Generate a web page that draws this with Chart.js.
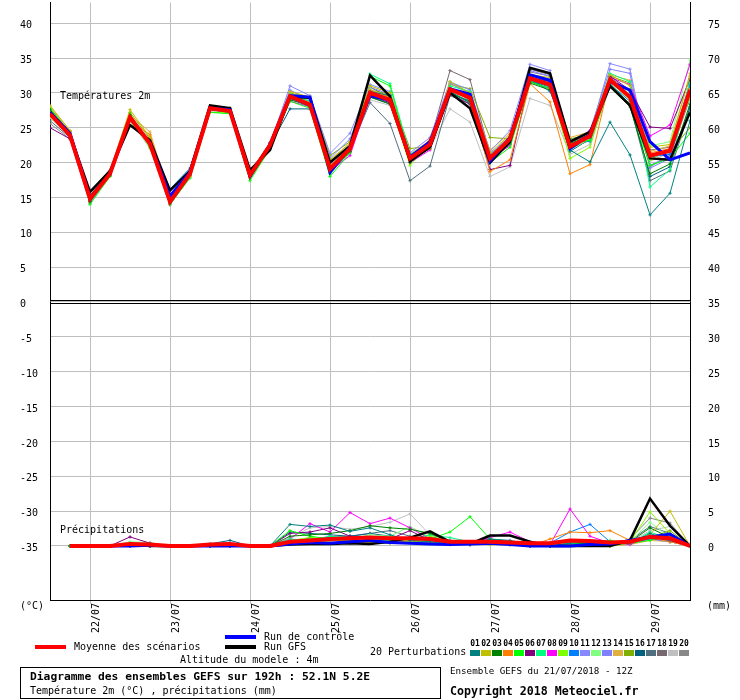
<!DOCTYPE html>
<html><head><meta charset="utf-8">
<script src="https://cdn.jsdelivr.net/npm/chart.js@4.4.0/dist/chart.umd.min.js"></script>
<style>html,body{margin:0;padding:0;background:#fff}canvas{display:block}</style>
</head><body>
<canvas id="c" width="740" height="700"></canvas>
<script>
// ---- time axis (hours since run 21/07/2018 12Z) ----
const HOURS = [0,6,12,18,24,30,36,42,48,54,60,66,72,78,84,90,96,102,108,114,120,126,132,138,144,150,156,162,168,174,180,186,192];
const DAY_HOURS = [12,36,60,84,108,132,156,180];
const DAY_LABELS = ['22/07','23/07','24/07','25/07','26/07','27/07','28/07','29/07'];
const TEMP_TICKS = [-35,-30,-25,-20,-15,-10,-5,0,5,10,15,20,25,30,35,40];
const PRECIP_BASE = -35; // 0 mm sits on the -35 line (right axis = left + 35)

// ---- temperatures 2m (°C) ----
const MEAN_T = [27.0,23.9,14.8,18.4,26.5,22.7,14.4,18.4,27.8,27.4,18.2,22.5,29.5,28.3,19.1,22.0,30.0,29.0,20.6,22.6,30.5,29.3,20.6,23.4,32.1,31.2,22.3,23.8,31.9,29.4,21.0,21.7,30.4];
const GFS_T  = [27.2,24.0,15.8,18.8,25.4,23.2,16.0,18.8,28.2,27.8,18.9,21.8,29.4,29.3,20.0,22.4,32.5,29.5,20.2,22.2,30.0,27.8,20.0,23.0,33.6,32.8,23.0,24.4,31.0,28.2,20.6,20.4,27.2];
const CTRL_T = [27.2,24.2,15.0,18.4,26.4,22.8,15.2,18.6,27.8,27.6,18.0,22.6,29.6,29.4,18.6,22.2,29.6,29.0,20.8,23.0,30.6,29.8,20.2,23.6,32.6,31.8,22.0,24.0,31.6,30.4,23.0,20.4,21.4];
const P01_T = [26.8,23.6,14.6,18.2,26.2,23.0,14.6,18.6,27.6,27.2,18.0,22.8,29.2,28.0,19.4,22.2,30.2,29.6,20.8,23.0,30.2,28.6,21.0,23.2,31.8,30.8,21.8,20.1,25.8,21.1,12.5,15.6,26.0];
const P02_T = [28.2,24.6,15.2,18.8,27.6,23.6,14.8,18.0,27.8,27.8,18.8,22.4,30.2,29.4,20.4,22.8,31.0,30.0,21.0,22.0,31.6,30.0,21.4,24.0,32.6,32.2,23.0,24.2,32.6,31.0,22.2,22.6,32.4];
const P03_T = [27.6,24.0,14.4,18.4,26.8,22.4,14.2,18.2,28.0,27.4,18.4,22.2,29.0,28.2,19.0,21.6,29.4,28.4,20.0,22.4,30.0,28.8,20.2,22.8,31.4,30.4,22.8,23.6,30.8,28.0,18.4,19.8,28.4];
const P04_T = [27.2,24.4,15.0,18.6,26.0,24.0,14.6,18.4,27.6,27.2,18.4,22.6,29.6,28.6,19.6,22.0,30.4,29.4,20.4,23.4,30.4,29.0,18.7,20.4,31.3,28.7,18.4,19.7,32.0,29.6,21.4,22.0,30.6];
const P05_T = [27.8,24.2,14.0,18.0,27.0,22.2,14.0,17.8,27.2,27.0,17.4,22.0,28.8,27.8,18.0,21.4,32.4,31.0,20.8,22.4,30.2,28.6,20.0,22.2,31.6,30.6,22.6,23.2,31.2,28.4,19.6,20.6,24.2];
const P06_T = [25.0,23.4,14.4,18.6,26.2,22.8,14.8,18.8,28.0,27.6,18.6,22.8,29.4,28.4,19.0,21.8,29.6,28.6,20.4,22.0,29.8,28.4,19.0,19.6,32.2,31.6,23.0,24.0,32.4,30.4,25.1,24.9,32.0];
const P07_T = [27.4,24.0,14.8,18.2,26.6,22.6,14.4,18.2,27.8,27.6,18.2,22.2,29.8,28.8,19.2,21.8,32.7,31.3,21.2,22.8,31.0,30.2,20.8,23.8,32.4,31.6,22.6,24.4,32.8,31.6,16.5,19.0,31.8];
const P08_T = [27.0,23.8,14.6,18.4,26.4,22.6,14.2,18.2,27.6,27.4,18.2,22.4,28.8,28.0,18.8,21.0,29.6,28.8,20.0,21.8,30.4,29.2,20.6,22.4,32.2,31.8,22.8,24.6,32.2,31.2,23.8,25.4,34.1];
const P09_T = [26.6,23.8,15.0,18.6,26.0,22.4,14.6,18.6,27.2,27.2,17.8,22.0,29.2,28.2,18.8,21.6,29.8,28.8,19.6,22.6,30.6,29.6,20.4,23.0,31.8,31.0,20.6,22.2,31.6,29.0,20.4,22.0,29.4];
const P10_T = [27.4,24.4,15.2,18.8,26.8,23.0,16.2,19.2,28.0,27.6,18.6,22.8,29.4,28.2,18.6,22.2,29.4,28.6,20.2,23.2,30.8,28.8,20.8,23.6,32.0,30.2,23.2,23.0,31.2,28.8,20.8,21.2,31.2];
const P11_T = [26.8,23.6,14.2,18.2,26.4,22.8,14.4,18.4,27.8,27.2,18.2,22.6,31.0,29.6,21.3,24.2,31.2,30.2,21.4,23.6,31.6,30.4,21.6,24.6,34.1,33.2,22.6,24.2,34.2,33.4,19.6,21.0,31.6];
const P12_T = [27.6,24.2,14.8,18.6,26.6,22.0,14.6,18.0,28.0,27.8,18.8,22.2,29.6,28.6,19.4,22.6,30.6,29.2,20.6,22.2,30.2,29.8,21.0,23.2,32.4,31.4,21.8,23.4,32.0,29.8,22.4,23.0,34.7];
const P13_T = [27.0,24.0,15.0,18.8,26.2,22.8,14.6,18.6,27.6,27.4,18.4,22.8,30.4,29.0,20.6,23.4,30.8,29.8,21.0,23.0,31.4,30.0,21.2,23.8,33.2,32.4,22.4,24.6,33.4,32.8,19.2,20.6,30.8];
const P14_T = [28.0,24.6,15.4,18.6,26.8,24.4,15.0,18.4,27.8,27.6,18.8,22.4,29.8,29.0,20.2,22.8,30.2,29.6,21.2,23.2,31.4,29.8,21.8,24.2,32.4,31.8,23.6,24.4,32.6,31.8,21.6,22.4,32.8];
const P15_T = [27.8,24.4,15.0,18.2,27.2,23.4,14.8,18.6,27.8,27.6,18.6,22.4,30.0,29.2,21.0,23.0,30.4,29.8,22.0,22.4,31.2,30.6,23.6,23.4,32.2,31.2,23.4,24.0,32.4,31.4,20.8,21.6,25.0];
const P16_T = [27.0,23.8,14.8,18.4,26.4,22.6,14.4,18.4,27.8,27.4,18.0,22.4,27.7,27.7,18.4,21.6,29.4,28.4,20.0,22.4,30.0,28.6,20.4,22.6,31.6,30.6,21.6,23.4,31.0,28.4,18.0,19.4,28.0];
const P17_T = [26.0,23.6,14.4,18.2,26.0,22.4,14.2,18.0,27.6,27.2,18.0,22.2,29.2,28.0,19.0,21.8,28.6,25.6,17.4,19.5,29.6,28.4,20.8,23.0,31.6,31.0,22.0,23.2,31.4,28.2,17.4,18.8,27.6];
const P18_T = [27.2,24.0,14.6,18.4,26.6,22.8,14.6,18.6,28.0,27.8,18.8,22.6,29.6,28.8,19.6,22.2,30.8,29.4,20.4,23.0,33.2,31.9,21.2,23.6,33.4,32.6,22.4,24.2,32.2,30.2,21.8,22.2,31.4];
const P19_T = [26.4,23.8,14.2,18.0,26.0,22.0,14.0,17.8,27.4,27.2,17.8,22.0,29.4,28.4,18.8,21.4,29.0,28.2,20.2,22.0,27.7,25.8,18.0,19.4,29.2,28.2,21.2,22.6,30.8,29.4,20.2,21.4,29.6];
const P20_T = [25.6,23.4,14.2,18.4,26.2,22.6,13.9,18.0,27.8,27.6,18.4,22.6,29.6,28.6,18.8,22.0,30.0,28.8,20.8,22.6,30.6,29.4,21.0,23.6,33.0,32.4,23.0,24.2,31.6,29.0,19.4,21.0,29.2];

// ---- precipitation (mm per 6h) ----
const MEAN_P = [null,0,0,0,0.3,0.2,0,0,0.2,0.3,0,0,0.6,0.8,1.0,1.1,1.2,1.1,1.1,1.0,0.6,0.6,0.6,0.5,0.4,0.4,0.8,0.7,0.5,0.6,1.3,1.1,0];
const GFS_P  = [null,0,0,0,0.2,0,0,0,0.1,0.2,0,0,0.2,0.3,0.3,0.4,0.3,0.6,1.2,2.1,0.6,0.3,1.5,1.5,0.6,0,0,0,0,0.8,6.8,2.9,0];
const CTRL_P = [null,0,0,0,0,0.1,0,0,0,0,0,0,0.3,0.5,0.4,0.6,0.8,0.5,0.4,0.3,0.2,0.3,0.4,0.2,0,0,0,0.2,0.3,0.8,1.3,1.7,0];
const P01_P = [null,0,0,0,0.2,0,0,0,0,0.2,0,0,3.1,2.8,3.0,2.1,2.6,1.6,0.8,0.6,0.4,0.2,1.0,0.6,0.2,0,0.4,0.6,0.2,0.4,1.8,0.8,0];
const P02_P = [null,0,0,0,0,0,0,0,0,0,0,0,0.6,0.4,0.8,1.0,0.4,0.6,0.8,0.5,0.3,0.4,0.2,0.2,0,0,0.2,0.2,0,0.4,1.6,5.0,0];
const P03_P = [null,0,0,0,0.2,0,0,0,0,0,0,0,1.4,1.6,1.8,2.2,2.9,2.6,2.4,1.8,0.6,0.3,0.6,0.4,0,0,0.2,0.4,0.2,0.6,2.6,1.2,0];
const P04_P = [null,0,0,0,0,0,0,0,0,0,0,0,0.4,0.6,0.5,0.4,0.6,0.4,0.8,0.6,0.4,0.2,0.3,0.2,0,1.0,2.0,1.9,2.2,0.8,1.2,0.6,0];
const P05_P = [null,0,0,0,0.4,0.3,0,0,0,0.1,0,0,2.2,1.4,1.0,0.8,0.6,0.4,0.4,1.0,2.0,4.2,1.0,0.6,0.3,0,0.2,0.4,0.8,0.4,0.8,1.6,0];
const P06_P = [null,0,0,0,1.3,0.4,0,0,0,0,0,0,1.8,2.0,2.6,1.4,1.2,1.0,2.2,0.8,0.4,0.2,0.4,0.6,0,0,0.2,0.2,0.4,0.4,1.4,0.8,0];
const P07_P = [null,0,0,0,0.3,0.2,0,0,0,0.2,0,0,1.0,0.8,1.4,1.2,1.0,0.8,1.0,1.6,1.2,0.6,0.8,0.4,0,0,0.4,0.2,0,0.4,2.0,1.0,0];
const P08_P = [null,0,0,0,0,0,0,0,0,0,0,0,1.0,3.2,2.0,4.8,3.2,4.0,2.6,1.0,0.6,0.4,1.2,2.0,0.6,0.2,5.3,1.4,0.4,0.2,1.4,0.8,0];
const P09_P = [null,0,0,0,0.2,0.2,0,0,0,0,0,0,0.8,1.2,1.0,0.6,0.6,0.8,0.6,1.4,0.6,0.4,0.2,0.2,0,0,0.4,0.2,0,0.6,4.9,1.8,0];
const P10_P = [null,0,0,0,0,0,0,0,0,0,0,0,0.8,1.0,1.2,0.6,0.8,1.0,0.6,0.4,0.8,0.6,0.4,0.2,0,0.4,2.0,3.1,0.6,0.4,1.0,0.8,0];
const P11_P = [null,0,0,0,0.2,0,0,0,0,0,0,0,0.6,0.8,1.4,1.0,0.6,0.8,1.0,0.6,0.4,0.6,1.0,0.4,0,0,0.2,0.4,0.2,0.8,1.4,1.6,0];
const P12_P = [null,0,0,0,0.6,0.5,0,0,0,0,0,0,0.4,0.6,0.8,1.0,1.6,1.4,2.8,1.2,0.6,0.4,0.6,0.2,0,0,0.6,0.4,0.2,0.6,3.4,1.2,0];
const P13_P = [null,0,0,0,0,0,0,0,0.2,0.2,0,0,0.8,0.6,1.0,0.8,0.8,1.2,0.8,0.4,0.2,0.4,0.8,0.6,0.2,0,0.6,0.4,0.2,0.4,1.0,0.6,0];
const P14_P = [null,0,0,0,0.3,0.2,0,0,0,0,0,0,0.2,0.4,0.6,0.4,0.8,1.4,1.0,1.6,0.8,0.4,0.2,0.2,0,0,0.4,0.2,0,0.2,0.8,0.6,0];
const P15_P = [null,0,0,0,0,0,0,0,0,0,0,0,0.4,0.6,0.4,0.6,0.4,0.6,0.6,0.4,0.2,0.2,0.6,0.2,0,0,0.2,0.2,0,0.6,1.2,2.2,0];
const P16_P = [null,0,0,0,0,0,0,0,0.3,0.8,0,0,2.0,1.8,1.6,1.4,1.8,1.4,1.0,0.8,0.4,0.6,1.0,0.8,0.2,0,0.2,0.4,0.4,0.6,1.4,1.0,0];
const P17_P = [null,0,0,0,0,0,0,0,0,0,0,0,0.8,1.0,1.2,1.4,1.8,2.2,1.4,0.6,0.4,0.2,0.4,0.2,0,0,0.2,0.2,0,0.8,2.8,1.8,0];
const P18_P = [null,0,0,0,0.2,0,0,0,0,0,0,0,0.6,1.2,0.8,0.6,1.0,0.6,0.8,1.2,0.6,0.4,0.6,0.4,0,0,0.2,0.2,0.2,0.4,1.6,0.6,0];
const P19_P = [null,0,0,0,0,0,0,0,0,0,0,0,1.2,2.6,2.8,2.4,2.8,3.4,4.6,1.6,0.4,0.2,0.6,0.3,0,0,0.4,0.2,0.2,0.6,2.2,2.8,0];
const P20_P = [null,0,0,0,0,0,0,0,0,0,0,0,0.4,0.8,1.2,0.8,0.6,1.0,0.8,1.0,0.4,0.2,0.6,0.3,0,0,0.2,0.6,0.2,1.0,4.0,3.3,0];

const PERT_NAMES = ['01','02','03','04','05','06','07','08','09','10','11','12','13','14','15','16','17','18','19','20'];
const PERT_COLORS = ['#008080','#c0c000','#008000','#ff8000','#00ff00','#800080','#00ff80','#ff00ff','#80ff00','#0080ff','#8888ff','#80ff80','#8080ff','#e0b040','#80b000','#006080','#507080','#786870','#c0c0c0','#888888'];
const PERT_T = [P01_T,P02_T,P03_T,P04_T,P05_T,P06_T,P07_T,P08_T,P09_T,P10_T,P11_T,P12_T,P13_T,P14_T,P15_T,P16_T,P17_T,P18_T,P19_T,P20_T];
const PERT_P = [P01_P,P02_P,P03_P,P04_P,P05_P,P06_P,P07_P,P08_P,P09_P,P10_P,P11_P,P12_P,P13_P,P14_P,P15_P,P16_P,P17_P,P18_P,P19_P,P20_P];

const FONT = "'DejaVu Sans Mono', monospace";
const GRID = '#bebebe';
const YMAX = 42.95, YMIN = -42.75;

function series(label, vals, offset, color, width, marker, order) {
  return {
    label,
    data: vals.map((v, i) => ({ x: HOURS[i], y: v === null ? null : v + offset })),
    borderColor: color, backgroundColor: color,
    borderWidth: width,
    pointStyle: 'cross',
    pointRadius: marker ? 1.6 : 0,
    pointBorderWidth: 1,
    pointBorderColor: color,
    pointHoverRadius: 0,
    tension: 0, fill: false, spanGaps: false,
    yAxisID: 'y', order
  };
}

const datasets = [];
datasets.push(series('Moyenne des scénarios', MEAN_T, 0, '#ff0000', 4, false, 0));
datasets.push(series('Moyenne des scénarios (p)', MEAN_P, PRECIP_BASE, '#ff0000', 4, false, 0));
datasets.push(series('Run de contrôle', CTRL_T, 0, '#0000ff', 3, false, 1));
datasets.push(series('Run de contrôle (p)', CTRL_P, PRECIP_BASE, '#0000ff', 3, false, 1));
datasets.push(series('Run GFS', GFS_T, 0, '#000000', 2.5, false, 2));
datasets.push(series('Run GFS (p)', GFS_P, PRECIP_BASE, '#000000', 2.5, false, 2));
PERT_T.forEach((arr, k) => datasets.push(series('P' + PERT_NAMES[k], arr, 0, PERT_COLORS[k], 1, true, 10 + k)));
PERT_P.forEach((arr, k) => datasets.push(series('P' + PERT_NAMES[k] + ' (p)', arr, PRECIP_BASE, PERT_COLORS[k], 1, true, 10 + k)));

const overlay = {
  id: 'overlay',
  beforeDatasetsDraw(chart) {
    const ctx = chart.ctx;
    ctx.save();
    ctx.fillStyle = '#000';
    ctx.font = '10px ' + FONT;
    ctx.textBaseline = 'middle';
    ctx.textAlign = 'left';
    ctx.fillText('Températures 2m', 60, 96);
    ctx.fillText('Précipitations', 60, 530);
    ctx.restore();
  },
  afterDraw(chart) {
    const { ctx, chartArea: a, scales } = chart;
    ctx.save();
    // double separator line at 0
    const y0 = Math.round(scales.y.getPixelForValue(0));
    ctx.strokeStyle = '#000'; ctx.lineWidth = 1;
    [y0 - 1.5, y0 + 1.5].forEach(yy => {
      ctx.beginPath(); ctx.moveTo(a.left, yy); ctx.lineTo(a.right, yy); ctx.stroke();
    });
    ctx.fillStyle = '#000';
    ctx.textBaseline = 'middle'; ctx.textAlign = 'left';
    ctx.font = '10px ' + FONT;
    ctx.fillText('(°C)', 20, 606);
    ctx.fillText('(mm)', 707, 606);
    // legend samples
    const sample = (x, y, c) => { ctx.fillStyle = c; ctx.fillRect(x, y - 2, 31, 4); };
    sample(35, 647, '#ff0000');
    sample(225, 637, '#0000ff');
    sample(225, 647, '#000000');
    ctx.fillStyle = '#000';
    ctx.fillText('Moyenne des scénarios', 74, 647);
    ctx.fillText('Run de contrôle', 264, 637);
    ctx.fillText('Run GFS', 264, 647);
    ctx.fillText('Altitude du modele : 4m', 180, 660);
    ctx.fillText('20 Perturbations', 370, 652);
    // perturbation colour boxes
    ctx.font = 'bold 8px ' + FONT;
    ctx.textAlign = 'center';
    PERT_COLORS.forEach((c, k) => {
      const bx = 470 + 11 * k;
      ctx.fillStyle = c; ctx.fillRect(bx, 650, 10, 6);
      ctx.fillStyle = '#000'; ctx.fillText(PERT_NAMES[k], bx + 5, 644);
    });
    // title box
    ctx.textAlign = 'left';
    ctx.strokeStyle = '#000'; ctx.lineWidth = 1;
    ctx.strokeRect(20.5, 667.5, 420, 31);
    ctx.fillStyle = '#000';
    ctx.font = 'bold 11.3px ' + FONT;
    ctx.fillText('Diagramme des ensembles GEFS sur 192h : 52.1N 5.2E', 30, 677.5);
    ctx.font = '10px ' + FONT;
    ctx.fillText('Température 2m (°C) , précipitations (mm)', 30, 691.5);
    ctx.font = '9.2px ' + FONT;
    ctx.fillText('Ensemble GEFS du 21/07/2018 - 12Z', 450, 672);
    ctx.font = 'bold 11.6px ' + FONT;
    ctx.fillText('Copyright 2018 Meteociel.fr', 450, 692);
    ctx.restore();
  }
};

new Chart(document.getElementById('c'), {
  type: 'line',
  data: { datasets },
  plugins: [overlay],
  options: {
    responsive: false,
    animation: false,
    events: [],
    layout: { padding: { left: 20, right: 0, top: 0, bottom: 0 } },
    plugins: { legend: { display: false }, tooltip: { enabled: false } },
    scales: {
      x: {
        type: 'linear', min: 0, max: 192,
        afterBuildTicks: s => { s.ticks = DAY_HOURS.map(v => ({ value: v })); },
        ticks: {
          autoSkip: false, minRotation: 90, maxRotation: 90, labelOffset: 6.5, padding: -1,
          color: '#000', font: { family: FONT, size: 10 },
          callback: (v, i) => DAY_LABELS[i]
        },
        grid: { color: GRID, lineWidth: 1, tickLength: 4 },
        border: { display: true, color: '#000', width: 1 },
        afterFit: s => { s.height = 100; s.paddingLeft = 0; s.paddingRight = 0; }
      },
      y: {
        position: 'left', min: YMIN, max: YMAX,
        afterBuildTicks: s => { s.ticks = TEMP_TICKS.map(v => ({ value: v })); },
        ticks: { crossAlign: 'far', labelOffset: 2.5, color: '#000', font: { family: FONT, size: 10 }, callback: v => String(v) },
        grid: { color: GRID, lineWidth: 1, drawTicks: false },
        border: { display: true, color: '#000', width: 1 },
        afterFit: s => { s.width = 30; s.paddingTop = 0; s.paddingBottom = 0; }
      },
      y2: {
        position: 'right', min: YMIN, max: YMAX,
        afterBuildTicks: s => { s.ticks = TEMP_TICKS.map(v => ({ value: v })); },
        ticks: { crossAlign: 'near', padding: 18, labelOffset: 2.5, color: '#000', font: { family: FONT, size: 10 }, callback: v => String(v - PRECIP_BASE) },
        grid: { drawOnChartArea: false, drawTicks: false, color: 'rgba(0,0,0,0)' },
        border: { display: true, color: '#000', width: 1 },
        afterFit: s => { s.width = 50; s.paddingTop = 0; s.paddingBottom = 0; }
      }
    }
  }
});
</script>
</body></html>
